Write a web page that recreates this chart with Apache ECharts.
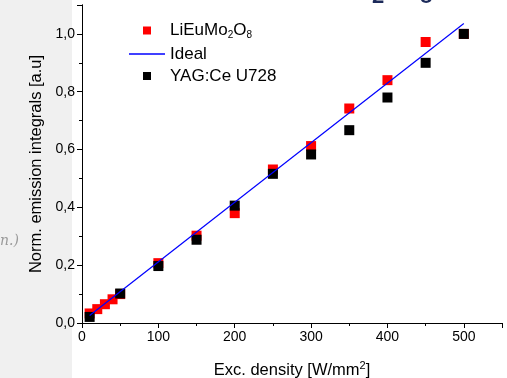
<!DOCTYPE html>
<html><head><meta charset="utf-8">
<script src="https://cdn.jsdelivr.net/npm/echarts@6/dist/echarts.min.js"></script>
<style>html,body{margin:0;padding:0;background:#fff}#c{width:507px;height:378px}</style>
</head><body><div id="c"></div>
<script>
var xRed = [10, 20, 30, 40, 50, 100, 150, 200, 250, 300, 350, 400, 450, 500];
var yRed = [0.033, 0.048, 0.065, 0.082, 0.1, 0.207, 0.302, 0.38, 0.531, 0.612, 0.742, 0.84, 0.972, 1.0];
var xBlack = [10, 50, 100, 150, 200, 250, 300, 350, 400, 450, 500];
var yBlack = [0.021, 0.102, 0.197, 0.288, 0.406, 0.516, 0.583, 0.667, 0.78, 0.9, 1.0];
var xIdeal = [10, 500];
var yIdeal = [0.026, 1.036];
var names = ['LiEuMo2O8', 'Ideal', 'YAG:Ce U728'];

function pairs(xs, ys) { return xs.map(function (x, i) { return [x, ys[i]]; }); }
var fmt = function (v) { return v.toFixed(1).replace('.', ','); };
var font = 'Liberation Sans, Arial, sans-serif';
var chart = echarts.init(document.getElementById('c'));
chart.setOption({
  animation: false,
  textStyle: { fontFamily: font },
  graphic: [
    { type: 'rect', shape: { x: 0, y: 0, width: 72, height: 378 }, style: { fill: '#f0f0f0' }, z: -10 },
    { type: 'text', x: 0, y: 234, style: { text: 'n.)', font: 'italic 14px DejaVu Serif', fill: '#9a9a9a' }, z: -5 },
    { type: 'text', x: 372, y: -14, style: { text: '2', font: 'bold 22px Liberation Sans', fill: '#1c2a5a' }, z: -5 },
    { type: 'text', x: 420, y: -14, style: { text: '8', font: 'bold 22px Liberation Sans', fill: '#1c2a5a' }, z: -5 }
  ],
  grid: { left: 82, right: 5, top: 5, bottom: 55, containLabel: false, outerBoundsMode: 'none', show: false },
  legend: {
    orient: 'vertical', left: 124, top: 17, itemWidth: 36, itemHeight: 8, itemGap: 5,
    textStyle: { fontSize: 17, color: '#000', fontFamily: font,
      rich: { a: { fontSize: 17, fontFamily: font, color: '#000' }, s: { fontSize: 10, fontFamily: font, color: '#000', verticalAlign: 'bottom', padding: [10, 0, 0, 0] } } },
    formatter: function (n) { return n === names[0] ? '{a|LiEuMo}{s|2}{a|O}{s|8}' : '{a|' + n + '}'; },
    data: [
      { name: names[0], icon: 'path://M0,0H1V1H0Z' },
      { name: names[1], icon: 'path://M0,0H36V1.3H0Z' },
      { name: names[2], icon: 'path://M0,0H1V1H0Z' }
    ]
  },
  xAxis: [{
    type: 'value', min: 0, max: 550, interval: 100,
    name: '{a|Exc. density [W/mm}{p|2}{a|]}', nameLocation: 'middle', nameGap: 37,
    nameTextStyle: { rich: { a: { fontSize: 16.5, color: '#000', fontFamily: font }, p: { fontSize: 11, color: '#000', fontFamily: font, verticalAlign: 'top', padding: [0, 0, 9, 0] } } },
    axisLine: { lineStyle: { color: '#000', width: 1 } },
    axisTick: { inside: false, length: 5, lineStyle: { color: '#000' } },
    minorTick: { show: true, splitNumber: 2, length: 3, lineStyle: { color: '#000' } },
    axisLabel: { showMaxLabel: false, fontSize: 14, color: '#000', margin: 7 },
    splitLine: { show: false }
  }, {
    type: 'value', position: 'top', min: 0, max: 550, interval: 100,
    axisLine: { lineStyle: { color: '#000', width: 1 } },
    axisTick: { inside: true, length: 5, lineStyle: { color: '#000' } },
    minorTick: { show: true, splitNumber: 2, length: 3, lineStyle: { color: '#000' } },
    axisLabel: { show: false }, splitLine: { show: false }
  }],
  yAxis: [{
    type: 'value', min: 0, max: 1.1, interval: 0.2,
    name: 'Norm. emission integrals [a.u]', nameLocation: 'middle', nameGap: 37,
    nameTextStyle: { fontSize: 16.5, color: '#000' },
    axisLine: { show: true, lineStyle: { color: '#000', width: 1 } },
    axisTick: { show: true, length: 5, lineStyle: { color: '#000' } },
    minorTick: { show: true, splitNumber: 2, length: 3, lineStyle: { color: '#000' } },
    axisLabel: { showMaxLabel: false, fontSize: 14, color: '#000', margin: 7, formatter: fmt },
    splitLine: { show: false }
  }, {
    type: 'value', position: 'right', min: 0, max: 1.1, interval: 0.2,
    axisLine: { show: true, lineStyle: { color: '#000', width: 1 } },
    axisTick: { show: true, inside: true, length: 5, lineStyle: { color: '#000' } },
    minorTick: { show: true, splitNumber: 2, length: 3, lineStyle: { color: '#000' } },
    axisLabel: { show: false }, splitLine: { show: false }
  }],
  series: [
    { name: names[0], type: 'scatter', symbol: 'rect', symbolSize: 10, itemStyle: { color: '#ff0000', opacity: 1 }, data: pairs(xRed, yRed), z: 3 },
    { name: names[1], type: 'line', showSymbol: false, symbol: 'none', lineStyle: { color: '#0000ff', width: 1.2 }, itemStyle: { color: '#0000ff' }, data: pairs(xIdeal, yIdeal), z: 5 },
    { name: names[2], type: 'scatter', symbol: 'rect', symbolSize: 10, itemStyle: { color: '#000000', opacity: 1 }, data: pairs(xBlack, yBlack), z: 4 }
  ]
});
</script></body></html>
